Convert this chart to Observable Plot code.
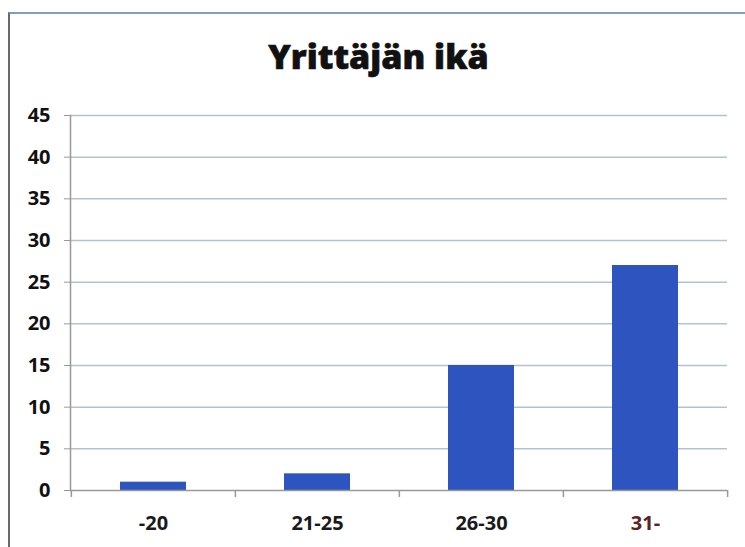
<!DOCTYPE html>
<html>
<head>
<meta charset="utf-8">
<script src="https://cdn.jsdelivr.net/npm/d3@7"></script>
<script src="https://cdn.jsdelivr.net/npm/@observablehq/plot@0.6"></script>
<style>
  html, body { margin: 0; padding: 0; background: #fff; }
  body { width: 745px; height: 547px; position: relative; overflow: hidden; font-family: "Open Sans", sans-serif; }
  #frame { position: absolute; left: 8px; top: 12px; width: 745px; height: 540px;
           border-left: 2px solid #6a6a6a; border-top: 2px solid #7f9fbf; box-sizing: border-box; }
  #title { position: absolute; left: 6px; top: 39px; width: 745px; text-align: center;
           font-size: 34px; font-weight: 800; letter-spacing: 0px; color: #111; line-height: 1;
           -webkit-text-stroke: 0.6px #111; }
  #chart { position: absolute; left: 0; top: 100px; }
</style>
</head>
<body>
<div id="frame"></div>
<div id="title">Yrittäjän ikä</div>
<div id="chart"></div>
<script>
const categories = ["-20", "21-25", "26-30", "31-"];
const values = [1, 2, 15, 27];
const yTicks = [0, 5, 10, 15, 20, 25, 30, 35, 40, 45];

const data = categories.map((c, i) => ({cat: c, value: values[i]}));

const W = 745, H = 440, mL = 70, mR = 18, mT = 15, mB = 50;
const step = (W - mL - mR) / categories.length;

const chart = Plot.plot({
  width: W, height: H,
  marginTop: mT, marginBottom: mB, marginLeft: mL, marginRight: mR,
  style: {fontFamily: "Open Sans, sans-serif", background: "transparent"},
  x: {domain: categories, paddingInner: 0.6, paddingOuter: 0.3, label: null},
  y: {domain: [0, 45], label: null},
  marks: [
    Plot.ruleY(yTicks.filter(d => d > 0), {stroke: "#b0c3d5", strokeWidth: 1.5}),
    Plot.barY(data, {x: "cat", y: "value", fill: "#2d54bf"}),
    Plot.ruleY([0], {stroke: "#999", strokeWidth: 1.5}),
    Plot.frame({anchor: "left", stroke: "#999", strokeWidth: 1.5}),
    Plot.ruleX(categories, {x: d => d, y1: 0, y2: 0, insetTop: 7, dx: -step / 2, stroke: "#999", strokeWidth: 1.5}),
    Plot.ruleX(categories.slice(-1), {x: d => d, y1: 0, y2: 0, insetTop: 7, dx: step / 2, stroke: "#999", strokeWidth: 1.5}),
    Plot.axisY({ticks: yTicks, tickSize: 6, tickPadding: 14, fontSize: 20, fontWeight: 700,
                fill: "#111", stroke: "#999", label: null, tickFormat: d => String(d),
                style: {letterSpacing: "1.5px"}}),
    Plot.axisX({ticks: [], label: null}),
    Plot.text(categories, {x: d => d, y: 0, dy: 33, fontSize: 20, fontWeight: 700,
                           fill: d => d === "31-" ? "#5a2424" : "#1a1a1a"})
  ]
});
document.getElementById("chart").appendChild(chart);
</script>
</body>
</html>
